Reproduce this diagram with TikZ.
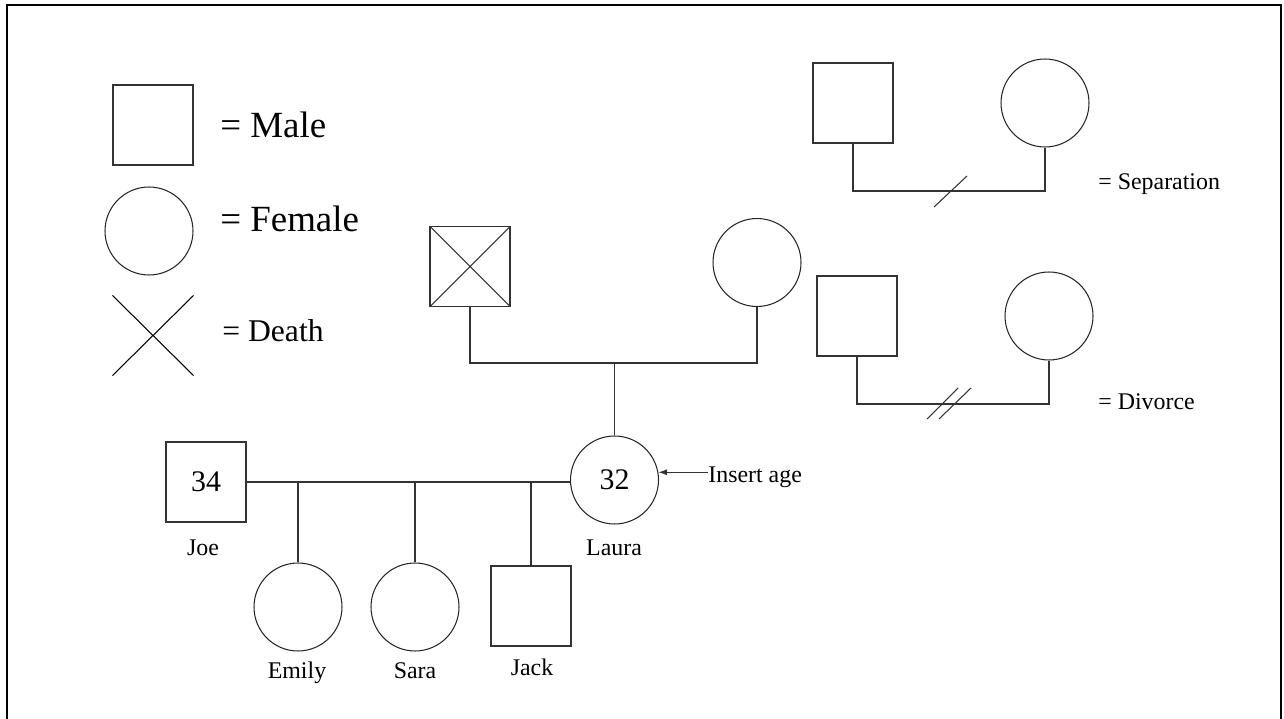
\documentclass[tikz,border=0pt]{standalone}
\usepackage{fontspec}
\setmainfont{Liberation Serif}
\usetikzlibrary{positioning,shapes.misc,arrows.meta}

\tikzset{
	male/.style={rectangle, draw=black!80, line width=0.6pt, minimum size=1.6cm, inner sep=0pt, font=\fontsize{17}{20}\selectfont},
	female/.style={circle, draw=black!85, line width=0.6pt, minimum size=1.76cm, inner sep=0pt, font=\fontsize{17}{20}\selectfont},
	dead/.style={male, path picture={\draw[black!80, line width=0.6pt] (path picture bounding box.north west) -- (path picture bounding box.south east) (path picture bounding box.north east) -- (path picture bounding box.south west);}},
	link/.style={draw=black!80, line width=0.6pt},
	pname/.style={inner sep=0pt, font=\fontsize{13.6}{16}\selectfont},
	keytext/.style={anchor=base west, inner sep=0pt, font=\fontsize{21}{25}\selectfont},
}

\begin{document}
\begin{tikzpicture}[x=0.02cm, y=-0.02cm]
			%%%%% START %%%%%
			\useasboundingbox (0,0) rectangle (1284,719);
			\draw[line width=1.6pt] (7,725) -- (7,5) -- (1281,5) -- (1281,725);
			
			% key
			\node[male] (malekey) at (153,125) {};
			\node[keytext] (maletxt) at (220,138) {= Male};
			\node[female] (femalekey) at (149,231) {};
			\node[keytext] (femaletxt) at (220,232) {= Female};
			\node[cross out, draw=black, line width=0.6pt, minimum width=1.6cm, minimum height=1.58cm, inner sep=0pt] (deathkey) at (153,335.5) {};
			\node[keytext, font=\fontsize{18}{21}\selectfont] (deathtxt) at (222,341) {= Death};
			
			% separation
			\node[male] (sepm) at (853,103) {};
			\node[female] (sepf) at (1045,103) {};
			\coordinate (sepmid) at (950,191);
			\draw[link] (sepm.south) |- (sepmid) -| (sepf.south);
			\draw[link] ([shift={(-16,16)}]sepmid) -- ([shift={(17,-15)}]sepmid);
			\node[pname, anchor=base west] (septxt) at (1098,190) {= Separation};
			
			% divorce
			\node[male] (divm) at (857,316) {};
			\node[female] (divf) at (1049,316) {};
			\coordinate (divmid) at (949,404);
			\draw[link] (divm.south) |- (divmid) -| (divf.south);
			\draw[link] ([shift={(-22,15)}]divmid) -- ([shift={(9,-16)}]divmid);
			\draw[link] ([shift={(-10,15)}]divmid) -- ([shift={(22,-16)}]divmid);
			\node[pname, anchor=base west] (divtxt) at (1098,409) {= Divorce};
			
			% grandparents
			\node[dead] (grandpa) at (470,266.5) {};
			\node[female] (grandma) at (757,262.5) {};
			\coordinate (gpmid) at (614.5,363);
			\draw[link] (grandpa.south) |- (gpmid) -| (grandma.south);
			
			% parents
			\node[male] (joe) at (206,482) {34};
			\node[female] (laura) at (614.5,480) {32};
			\draw[link] (gpmid) -- (laura.north);
			\draw[link] (joe.east) -- (joe.east -| laura.west);
			\node[pname, anchor=base] (joename) at (203,555) {Joe};
			\node[pname, anchor=base] (lauraname) at (614,555) {Laura};
			
			\node[pname, anchor=base west] (agetxt) at (708,482) {Insert age};
			\draw[link, -{Latex[length=5pt,width=3.5pt]}] (agetxt.west |- laura.10) -- (laura.10);
			
			% children
			\node[female] (emily) at (298,607) {};
			\node[female] (sara) at (415,607) {};
			\node[male] (jack) at (531,606) {};
			\draw[link] (emily.north) -- (emily.north |- joe.east);
			\draw[link] (sara.north) -- (sara.north |- joe.east);
			\draw[link] (jack.north) -- (jack.north |- joe.east);
			\node[pname, anchor=base] (emilyname) at (297,678) {Emily};
			\node[pname, anchor=base] (saraname) at (415,678) {Sara};
			\node[pname, anchor=base] (jackname) at (532,675) {Jack};
			%%%%% END %%%%%
\end{tikzpicture}
\end{document}
